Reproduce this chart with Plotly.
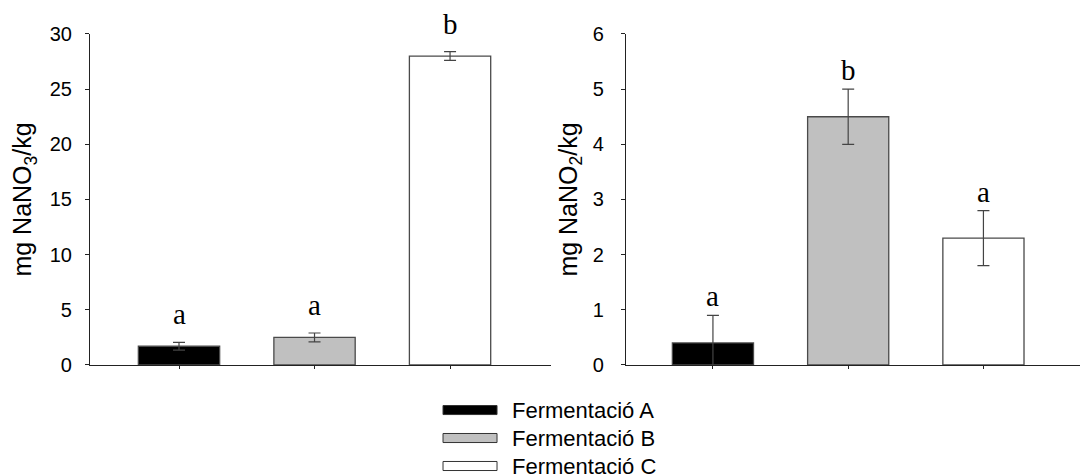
import plotly.graph_objects as go
from plotly.subplots import make_subplots

categories = ["Fermentació A", "Fermentació B", "Fermentació C"]
colors = ["#000000", "#c0c0c0", "#ffffff"]

nitrate_values = [1.7, 2.5, 28.0]
nitrate_errors = [0.35, 0.4, 0.4]
nitrate_letters = ["a", "a", "b"]

nitrite_values = [0.4, 4.5, 2.3]
nitrite_errors = [0.5, 0.5, 0.5]
nitrite_letters = ["a", "b", "a"]

yticks_left = [0, 5, 10, 15, 20, 25, 30]
yticks_right = [0, 1, 2, 3, 4, 5, 6]

sans = "Arial, Liberation Sans, sans-serif"
serif = "Times New Roman, Liberation Serif, serif"
axis_col = "#222222"

fig = make_subplots(rows=1, cols=2)

x_idx = list(range(len(categories)))

for col, vals, errs in [(1, nitrate_values, nitrate_errors), (2, nitrite_values, nitrite_errors)]:
    fig.add_trace(go.Bar(
        x=x_idx, y=vals, width=0.6,
        marker=dict(color=colors, line=dict(color="#4a4a4a", width=1.3)),
        error_y=dict(type="data", array=errs, color="#444444", thickness=1.2, width=6),
        showlegend=False, hoverinfo="y",
    ), row=1, col=col)

# significance letters
for i, (v, e, t) in enumerate(zip(nitrate_values, nitrate_errors, nitrate_letters)):
    fig.add_annotation(x=i, y=v + e, text=t, xref="x", yref="y", showarrow=False,
                       yanchor="bottom", yshift=10, font=dict(family=serif, size=29, color="#000"))
for i, (v, e, t) in enumerate(zip(nitrite_values, nitrite_errors, nitrite_letters)):
    fig.add_annotation(x=i, y=v + e, text=t, xref="x2", yref="y2", showarrow=False,
                       yanchor="bottom", yshift=1, font=dict(family=serif, size=29, color="#000"))

ydom = [0.2332, 0.9286]
common_x = dict(showticklabels=False, ticks="outside", ticklen=3, tickcolor=axis_col,
                tickvals=x_idx, showline=True, linecolor=axis_col, linewidth=1,
                showgrid=False, zeroline=False, automargin=False)
common_y = dict(domain=ydom, ticks="outside", ticklen=4, tickcolor=axis_col,
                showline=True, linecolor=axis_col, linewidth=1, showgrid=False,
                zeroline=False, tickfont=dict(size=20, family=sans), automargin=False)
fig.update_layout(
    width=1080, height=476,
    margin=dict(l=0, r=0, t=0, b=0, autoexpand=False),
    paper_bgcolor="white", plot_bgcolor="white",
    font=dict(family=sans, color="#000"),
    xaxis=dict(domain=[0.0833, 0.5102], range=[-0.657, 2.745], **common_x),
    xaxis2=dict(domain=[0.5796, 1.0], range=[-0.643, 2.714], **common_x),
    yaxis=dict(range=[0, 30], tickvals=yticks_left, ticklabelstandoff=9,
               title=dict(text="mg NaNO<sub>3</sub>/kg", font=dict(size=25, family=sans), standoff=10),
               **common_y),
    yaxis2=dict(range=[0, 6], tickvals=yticks_right, ticklabelstandoff=13,
                title=dict(text="mg NaNO<sub>2</sub>/kg", font=dict(size=25, family=sans), standoff=8),
                **common_y),
)

# custom legend (wide rectangular swatches)
leg_y = [0.1386, 0.0798, 0.021]
for i, (name, c) in enumerate(zip(categories, colors)):
    yc = leg_y[i]
    fig.add_shape(type="rect", xref="paper", yref="paper",
                  x0=0.4102, x1=0.4602, y0=yc - 0.0095, y1=yc + 0.0095,
                  fillcolor=c, line=dict(color="#333333", width=1))
    fig.add_annotation(xref="paper", yref="paper", x=0.4722, y=yc, text=name,
                       showarrow=False, xanchor="left", yanchor="middle",
                       font=dict(family=sans, size=22, color="#000"))

fig.write_html("out.html")
